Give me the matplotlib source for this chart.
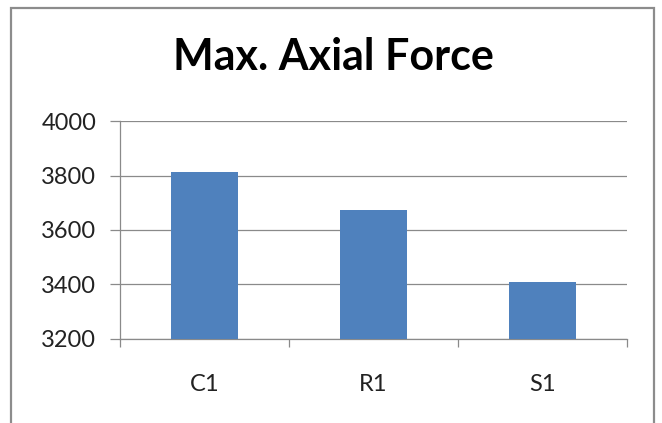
import matplotlib.pyplot as plt
from matplotlib.patches import Rectangle
import numpy as np

categories = ['C1', 'R1', 'S1']
forces = [3813, 3673, 3410]
yticks = [3200, 3400, 3600, 3800, 4000]

W, H = 662, 423
fig = plt.figure(figsize=(W / 100, H / 100), dpi=100)
plt.rcParams['font.family'] = ['Lato', 'DejaVu Sans']

# outer chart frame (bottom edge runs off the image)
fig.patches.append(Rectangle((11 / W, -0.05), (654 - 11) / W, 1.05 - 8 / H,
                             transform=fig.transFigure, fill=False,
                             edgecolor='#8c8c8c', linewidth=1.6))

ax = fig.add_axes([120 / W, 1 - 339 / H, (627 - 120) / W, (339 - 121) / H])
x = np.arange(len(categories))
ax.bar(x, forces, width=0.4, color='#4f81bd', zorder=3)

ax.set_xlim(-0.5, len(categories) - 0.5)
ax.set_ylim(yticks[0], yticks[-1])
ax.set_yticks(yticks)
ax.set_yticklabels([str(v) for v in yticks])
ax.set_xticks(x)
ax.set_xticklabels(categories)
ax.set_xticks(np.arange(len(categories) + 1) - 0.5, minor=True)

ax.grid(axis='y', color='#8a8a8a', linewidth=0.9, zorder=0)
for s in ['top', 'right']:
    ax.spines[s].set_visible(False)
for s in ['left', 'bottom']:
    ax.spines[s].set_color('#8a8a8a')
    ax.spines[s].set_linewidth(0.9)

ax.tick_params(axis='y', length=7, width=0.9, color='#8a8a8a', pad=10,
               labelsize=17, labelcolor='#222222')
ax.tick_params(axis='x', which='major', length=0, pad=25,
               labelsize=17, labelcolor='#222222')
ax.tick_params(axis='x', which='minor', length=6, width=0.9, color='#8a8a8a')

fig.text(333 / W, 1 - 70 / H, 'Max. Axial Force', ha='center', va='baseline',
         fontsize=31, fontweight='bold', color='black')

fig.savefig('out.png', dpi=100)
